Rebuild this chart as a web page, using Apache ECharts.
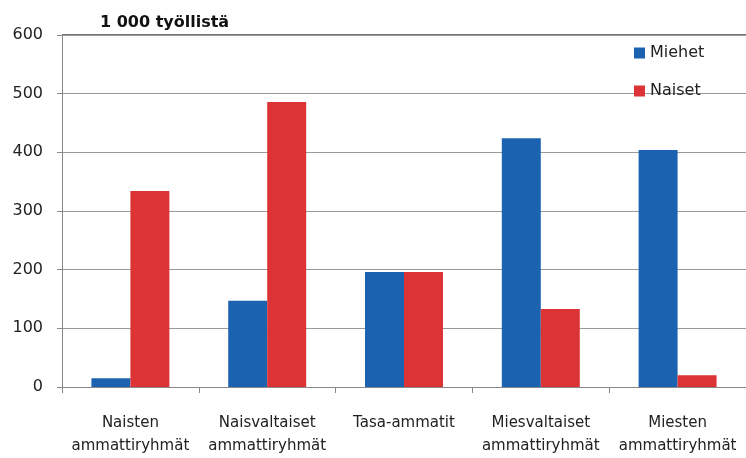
<!DOCTYPE html>
<html><head><meta charset="utf-8">
<script src="https://cdn.jsdelivr.net/npm/echarts@6/dist/echarts.min.js"></script>
<style>html,body{margin:0;padding:0;background:#fff}#c{width:746px;height:458px}</style>
</head><body><div id="c"></div>
<script>
var categories = ['Naisten\nammattiryhmät', 'Naisvaltaiset\nammattiryhmät', 'Tasa-ammatit', 'Miesvaltaiset\nammattiryhmät', 'Miesten\nammattiryhmät'];
var miehet = [15, 147, 196, 424, 404];
var naiset = [334, 486, 196, 133, 20];
var yTicks = [0, 100, 200, 300, 400, 500, 600];
var chart = echarts.init(document.getElementById('c'));
var font = 'DejaVu Sans';
chart.setOption({
  animation: false,
  textStyle: {fontFamily: font},
  title: {text: '1 000 työllistä', left: 95, top: 10, textStyle: {fontSize: 16, fontWeight: 'bold', color: '#111', fontFamily: font}},
  legend: {orient: 'vertical', left: 634, top: 45, padding: 0, itemWidth: 11, itemHeight: 11, itemGap: 22,
    icon: 'rect', textStyle: {fontSize: 16, color: '#222', fontFamily: font}, data: ['Miehet', 'Naiset']},
  grid: {left: 62, top: 35, width: 686, height: 354, containLabel: false},
  xAxis: {type: 'category', data: categories,
    axisLine: {lineStyle: {color: '#888', width: 1}},
    axisTick: {show: true, length: 6, lineStyle: {color: '#888'}},
    axisLabel: {fontSize: 15, color: '#222', margin: 25, lineHeight: 23, interval: 0, fontFamily: font}},
  yAxis: {type: 'value', min: 0, max: 600, interval: 100,
    axisLine: {show: true, lineStyle: {color: '#888'}},
    axisTick: {show: true, length: 5, lineStyle: {color: '#888'}},
    axisLabel: {fontSize: 16, color: '#222', margin: 19, fontFamily: font,
      formatter: function (v) { return yTicks.indexOf(v) >= 0 ? String(v) : ''; }},
    splitLine: {lineStyle: {color: '#999', width: 1}}},
  series: [
    {name: 'Miehet', type: 'bar', data: miehet, barGap: '0%', barCategoryGap: '43%', itemStyle: {color: '#1b63b0'}},
    {name: 'Naiset', type: 'bar', data: naiset, itemStyle: {color: '#dc3436'}}
  ],
  graphic: [{type: 'line', shape: {x1: 62, y1: 35, x2: 746, y2: 35}, style: {stroke: '#444', lineWidth: 1.5}}]
});
</script></body></html>
